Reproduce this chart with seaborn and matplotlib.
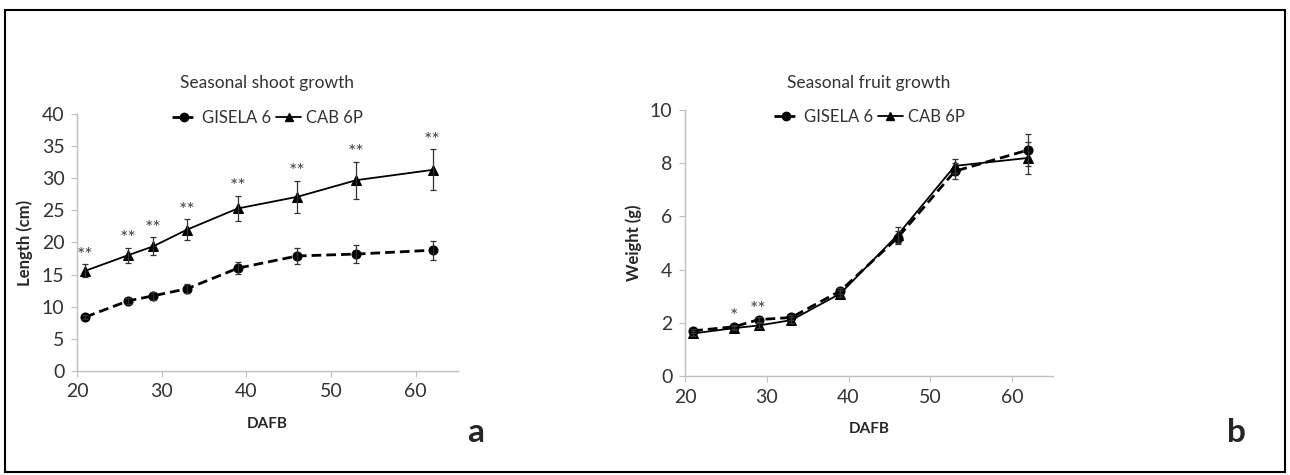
import pandas as pd
import seaborn as sns
import matplotlib
matplotlib.use("Agg")
from matplotlib import pyplot as plt
from matplotlib.patches import Rectangle
from matplotlib.lines import Line2D

# days after full bloom
dafb = [21, 26, 29, 33, 39, 46, 53, 62]

# shoot length (cm)
shoot_gisela = [8.4, 10.9, 11.7, 12.8, 16.0, 17.9, 18.2, 18.8]
shoot_gisela_err = [0.3, 0.5, 0.6, 0.7, 0.9, 1.2, 1.4, 1.5]
shoot_cab = [15.6, 18.0, 19.4, 22.0, 25.3, 27.1, 29.7, 31.3]
shoot_cab_err = [1.0, 1.2, 1.4, 1.6, 2.0, 2.5, 2.9, 3.2]
shoot_stars = ["**", "**", "**", "**", "**", "**", "**", "**"]

# fruit weight (g)
fruit_gisela = [1.7, 1.85, 2.12, 2.2, 3.2, 5.2, 7.7, 8.5]
fruit_gisela_err = [0.08, 0.08, 0.1, 0.1, 0.12, 0.25, 0.3, 0.6]
fruit_cab = [1.6, 1.8, 1.9, 2.1, 3.1, 5.3, 7.9, 8.2]
fruit_cab_err = [0.08, 0.08, 0.1, 0.1, 0.12, 0.3, 0.25, 0.6]
fruit_stars = ["", "*", "**", "", "", "", "", ""]

sns.set_style("white")
plt.rcParams["font.family"] = ["Lato", "DejaVu Sans"]

fig = plt.figure(figsize=(12.9, 4.75), dpi=100)
fig.patches.append(Rectangle((0.004, 0.006), 0.992, 0.973, transform=fig.transFigure,
                             fill=False, edgecolor="black", linewidth=1.5))

ax1 = fig.add_axes([0.0597, 0.219, 0.2953, 0.541])
ax2 = fig.add_axes([0.531, 0.2084, 0.2853, 0.56])


def draw(ax, gis, gis_err, cab, cab_err, stars, star_off, ylim, ystep, ylabel, title, tpad, legy):
    df = pd.DataFrame({"DAFB": dafb * 2,
                       "value": gis + cab,
                       "err": gis_err + cab_err,
                       "line": ["GISELA 6"] * len(dafb) + ["CAB 6P"] * len(dafb)})
    sns.lineplot(data=df, x="DAFB", y="value", style="line", markers={"GISELA 6": "o", "CAB 6P": "^"},
                 dashes={"GISELA 6": (3.5, 1.8), "CAB 6P": ""}, color="black",
                 markersize=6.5, markeredgecolor="black", ax=ax, legend=False)
    for name in ["GISELA 6", "CAB 6P"]:
        sub = df[df["line"] == name]
        ax.errorbar(sub["DAFB"], sub["value"], yerr=sub["err"], fmt="none",
                    ecolor="#333333", elinewidth=0.9, capsize=2.5, capthick=0.9)
    for x, y, e, s in zip(dafb, cab, cab_err, stars):
        if s:
            top = max(y + e, gis[dafb.index(x)])
            ax.text(x, top + star_off, s, ha="center", va="bottom", fontsize=14, color="#444444")
    ax.set_xlim(20, 65)
    ax.set_ylim(*ylim)
    ax.set_xticks(range(20, 61, 10))
    ax.set_yticks(list(range(ylim[0], ylim[1] + 1, ystep)))
    for sp in ["top", "right"]:
        ax.spines[sp].set_visible(False)
    for sp in ["left", "bottom"]:
        ax.spines[sp].set_color("#bfbfbf")
        ax.spines[sp].set_linewidth(1.0)
    ax.tick_params(axis="both", direction="out", length=4, color="#bfbfbf",
                   labelsize=14, labelcolor="#333333", bottom=True, left=True, pad=5)
    ax.set_xlabel("DAFB", fontsize=11, fontweight="bold", labelpad=12)
    ax.set_ylabel(ylabel, fontsize=12, fontweight="bold", labelpad=6)
    ax.set_title(title, fontsize=12.5, color="#333333", pad=tpad)
    handles = [Line2D([], [], color="black", marker="o", linestyle=(0, (3, 1.5)), markersize=6, lw=2),
               Line2D([], [], color="black", marker="^", linestyle="-", markersize=6, lw=1.3)]
    ax.legend(handles, ["GISELA 6", "CAB 6P"], loc="center", bbox_to_anchor=(0.5, legy),
              ncol=2, frameon=False, fontsize=12, handlelength=1.5, handletextpad=0.3,
              columnspacing=0.3, labelcolor="#333333", borderaxespad=0)


draw(ax1, shoot_gisela, shoot_gisela_err, shoot_cab, shoot_cab_err, shoot_stars, 0.1,
     (0, 40), 5, "Length (cm)", "Seasonal shoot growth", 19, 0.984)
draw(ax2, fruit_gisela, fruit_gisela_err, fruit_cab, fruit_cab_err, fruit_stars, 0.05,
     (0, 10), 2, "Weight (g)", "Seasonal fruit growth", 16, 0.974)

# the solid line is thinner than the dashed one
for ax in (ax1, ax2):
    ax.lines[0].set_linewidth(2.0)
    ax.lines[1].set_linewidth(1.3)

fig.text(0.362, 0.07, "a", fontsize=24, fontweight="bold")
fig.text(0.951, 0.07, "b", fontsize=24, fontweight="bold")

plt.savefig("out.png", dpi=100)
